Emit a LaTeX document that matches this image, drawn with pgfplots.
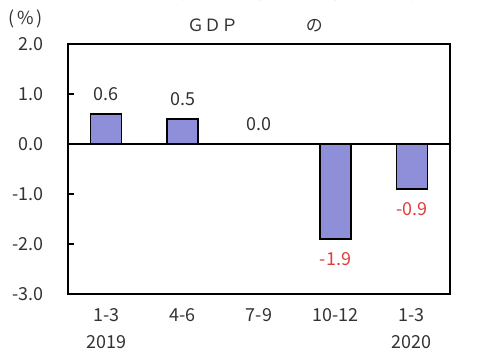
\documentclass[border=0pt]{standalone}
\usepackage{fontspec}
\setmainfont{Noto Sans CJK JP}
\usepackage{pgfplots}
\pgfplotsset{compat=1.18}
\definecolor{barfill}{RGB}{143,143,217}
\definecolor{txt}{RGB}{50,50,50}
\definecolor{redtxt}{RGB}{225,60,60}
\begin{document}
\begin{tikzpicture}
\path (0,0) rectangle (489bp,358bp);
\begin{axis}[
  at={(68bp,64bp)}, anchor=south west,
  scale only axis, width=382bp, height=250bp,
  xmin=-0.5, xmax=4.5, ymin=-3, ymax=2,
  axis line style={line width=2bp},
  ytick={-3,-2,-1,0,1,2},
  yticklabels={-3.0,-2.0,-1.0,0.0,1.0,2.0},
  xtick={0,1,2,3,4},
  xticklabels={1-3\\2019,4-6,7-9,10-12,1-3\\2020},
  tick align=inside,
  major tick length=6bp,
  every tick/.style={black, line width=1.2bp},
  major x tick style={draw=none},
  ytick pos=left,
  yticklabel style={anchor=east, inner sep=0pt, xshift=-24bp, font=\fontsize{18}{22}\selectfont, text=txt},
  xticklabel style={align=center, anchor=north, inner sep=0pt, yshift=-8bp, font=\fontsize{18}{27}\selectfont, text=txt},
  ybar, bar width=31bp, bar shift=0pt,
  clip=false,
  point meta=explicit symbolic,
  nodes near coords,
]
\addplot[fill=barfill, draw=black, line width=1.5bp,
  every node near coord/.style={anchor=south, inner sep=0pt, yshift=13bp, text=txt, font=\fontsize{18}{22}\selectfont}]
  coordinates {(0,0.6) [0.6] (1,0.5) [0.5] (2,0.0) [0.0]};
\addplot[fill=barfill, draw=black, line width=1.5bp,
  every node near coord/.style={anchor=north, inner sep=0pt, yshift=-13bp, text=redtxt, font=\fontsize{18}{22}\selectfont}]
  coordinates {(3,-1.9) [-1.9] (4,-0.9) [-0.9]};
\draw[line width=2bp] (axis cs:-0.5,0) -- (axis cs:4.5,0);
\pgfplotsinvokeforeach{0.5,1.5,2.5,3.5}{
  \draw[line width=1.2bp] (axis cs:#1,0) ++(0,-6bp) -- ++(0,12bp);
}
\end{axis}
\node[anchor=west, inner sep=0pt, text=txt, font=\fontsize{17}{20}\selectfont] at (187bp,333bp) {ＧＤＰ　　　　の};
\node[anchor=west, inner sep=0pt, text=txt, font=\fontsize{18}{22}\selectfont] at (8bp,339bp) {(\,\%\,)};
\pgfresetboundingbox
\path (0,0) rectangle (489bp,358bp);
\end{tikzpicture}
\end{document}
